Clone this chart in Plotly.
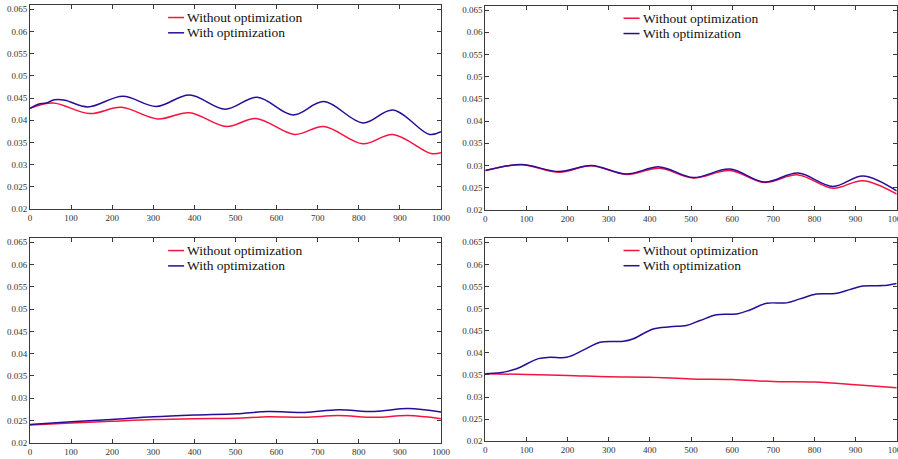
import plotly.graph_objects as go

# ---------------- data ----------------
tl_x_with = [0, 20, 40, 60, 85, 141, 226, 307, 388, 475, 553, 640, 715, 810, 883, 972, 1000]
tl_y_with = [0.0427, 0.0436, 0.0439, 0.0446, 0.0445, 0.0430, 0.0454, 0.0431, 0.0457, 0.0425,
             0.0452, 0.0412, 0.0442, 0.0394, 0.0423, 0.0368, 0.0374]
tl_x_without = [0, 56, 145, 222, 311, 388, 478, 550, 644, 715, 810, 883, 976, 1000]
tl_y_without = [0.0427, 0.0439, 0.0415, 0.0429, 0.0403, 0.0417, 0.0386, 0.0404, 0.0368, 0.0386,
                0.0347, 0.0368, 0.0325, 0.0327]

tr_x = [0, 88, 179, 258, 343, 424, 505, 594, 679, 760, 845, 918, 1000]
tr_y_with = [0.02887, 0.03023, 0.02864, 0.0300, 0.0281, 0.0297, 0.0273, 0.0292, 0.0263, 0.0283,
             0.0253, 0.02766, 0.0243]
tr_y_without = [0.02887, 0.0302, 0.0285, 0.02995, 0.0280, 0.0294, 0.0272, 0.0289, 0.0262, 0.0279,
                0.0249, 0.0266, 0.0236]

bl_x = [0, 100, 198, 300, 400, 502, 579, 668, 750, 838, 920, 1000]
bl_y_with = [0.0241, 0.0247, 0.0252, 0.0258, 0.0262, 0.0265, 0.0270, 0.0268, 0.0274, 0.0270, 0.02766, 0.0269]
bl_y_without = [0.0240, 0.0244, 0.0248, 0.0252, 0.0254, 0.0255, 0.0258, 0.0257, 0.0261, 0.0257, 0.0261, 0.0254]

br_x_with = [0, 36, 76, 129, 157, 198, 238, 279, 336, 360, 408, 449, 489, 522, 562, 611, 643,
             684, 732, 765, 805, 850, 886, 918, 966, 1000]
br_y_with = [0.0353, 0.0355, 0.0364, 0.0387, 0.0390, 0.0390, 0.0406, 0.0424, 0.0426, 0.0432,
             0.0454, 0.0459, 0.0462, 0.0473, 0.0486, 0.0488, 0.0497, 0.0512, 0.0513, 0.0522,
             0.0533, 0.0534, 0.0543, 0.0551, 0.0552, 0.0557]
br_x_without = [0, 100, 200, 300, 400, 500, 600, 700, 800, 900, 1000]
br_y_without = [0.0353, 0.0351, 0.0349, 0.0346, 0.0345, 0.0341, 0.0340, 0.0335, 0.0334, 0.0328, 0.0321]

x_ticks = [0, 100, 200, 300, 400, 500, 600, 700, 800, 900, 1000]
y_ticks = [0.02, 0.025, 0.03, 0.035, 0.04, 0.045, 0.05, 0.055, 0.06, 0.065]
y_tick_labels = ["0.02", "0.025", "0.03", "0.035", "0.04", "0.045", "0.05", "0.055", "0.06", "0.065"]

series_names = ["Without optimization", "With optimization"]
RED = "#f5143f"
BLUE = "#2b0c96"

panels = [
    (tl_x_without, tl_y_without, tl_x_with, tl_y_with),
    (tr_x, tr_y_without, tr_x, tr_y_with),
    (bl_x, bl_y_without, bl_x, bl_y_with),
    (br_x_without, br_y_without, br_x_with, br_y_with),
]

# ---------------- layout geometry ----------------
W, H = 898, 459
x_domains = [(30 / W, 441 / W), (485.3 / W, 896.7 / W), (30 / W, 441 / W), (485.3 / W, 896.7 / W)]
y_domains = [(1 - 209 / H, 1 - 5.3 / H), (1 - 210 / H, 1 - 6 / H),
             (1 - 442.7 / H, 1 - 238.3 / H), (1 - 441.3 / H, 1 - 238.3 / H)]

fig = go.Figure()
FONT = "Times New Roman, Liberation Serif, serif"
AXC = "#3a3a3a"

shapes = []
annotations = []
for i, (xw0, yw0, xw1, yw1) in enumerate(panels):
    n = "" if i == 0 else str(i + 1)
    xa, ya = "x" + n, "y" + n
    fig.add_trace(go.Scatter(x=xw0, y=yw0, mode="lines", line=dict(color=RED, width=1.5, shape="spline", smoothing=1.0),
                             name=series_names[0], xaxis=xa, yaxis=ya, showlegend=False))
    fig.add_trace(go.Scatter(x=xw1, y=yw1, mode="lines", line=dict(color=BLUE, width=1.5, shape="spline", smoothing=1.0),
                             name=series_names[1], xaxis=xa, yaxis=ya, showlegend=False))
    common = dict(showline=True, linecolor=AXC, linewidth=1, mirror="ticks", ticks="inside",
                  ticklen=4, tickwidth=1, tickcolor=AXC, showgrid=False, zeroline=False,
                  automargin=False, ticklabeloverflow="allow",
                  tickfont=dict(family=FONT, size=9, color="#333"))
    fig.layout["xaxis" + n] = dict(domain=list(x_domains[i]), range=[0, 1000], anchor=ya,
                                   tickvals=x_ticks, ticktext=[str(v) for v in x_ticks], **common)
    fig.layout["yaxis" + n] = dict(domain=list(y_domains[i]), range=[0.02, 0.0659], anchor=xa,
                                   tickvals=y_ticks, ticktext=y_tick_labels, **common)
    # per-panel legend
    for k, (ly, col) in enumerate([(0.94, RED), (0.865, BLUE)]):
        shapes.append(dict(type="line", xref=xa + " domain", yref=ya + " domain",
                           x0=0.336, x1=0.375, y0=ly, y1=ly, line=dict(color=col, width=1.5)))
        annotations.append(dict(xref=xa + " domain", yref=ya + " domain", x=0.378, y=ly,
                                xanchor="left", yanchor="middle", showarrow=False,
                                text=series_names[k], font=dict(family=FONT, size=13.5, color="#111")))

fig.update_layout(width=W, height=H, margin=dict(l=0, r=0, t=0, b=0),
                  paper_bgcolor="white", plot_bgcolor="white",
                  font=dict(family=FONT),
                  shapes=shapes, annotations=annotations, showlegend=False)
fig.write_html("out.html")
